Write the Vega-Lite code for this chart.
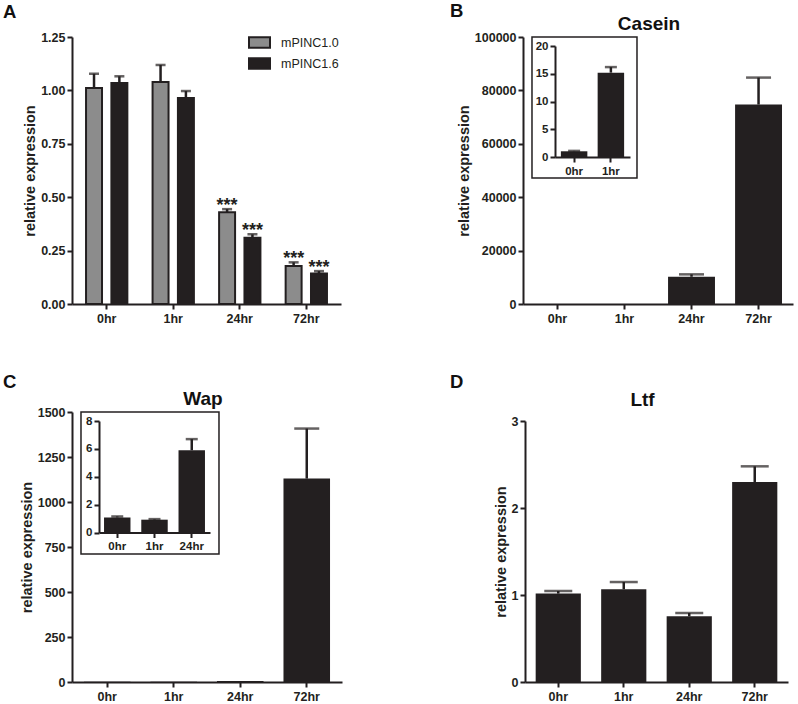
{
  "$schema": "https://vega.github.io/schema/vega-lite/v6.json",
  "width": 798,
  "height": 704,
  "autosize": {"type": "none"},
  "padding": 0,
  "background": "white",
  "config": {
    "view": {"stroke": null},
    "font": "Liberation Sans",
    "axis": {
      "grid": false,
      "domainColor": "#231f20",
      "domainWidth": 2,
      "tickColor": "#231f20",
      "tickWidth": 2,
      "tickSize": 5,
      "labelFont": "Liberation Sans",
      "labelFontWeight": "bold",
      "labelFontSize": 12.5,
      "labelColor": "#231f20",
      "labelPadding": 2,
      "titleFont": "Liberation Sans",
      "titleFontWeight": "bold",
      "titleFontSize": 14.5,
      "titleColor": "#231f20",
      "titlePadding": 3,
      "labelAngle": 0,
      "labelOverlap": false,
      "labelFlush": false
    },
    "axisX": {"labelPadding": 3},
    "text": {"font": "Liberation Sans", "color": "#111111"}
  },
  "datasets": {
    "A": [
      {"t": "0hr", "g": "mPINC1.0", "v": 1.011, "hi": 1.078},
      {"t": "0hr", "g": "mPINC1.6", "v": 1.035, "hi": 1.066},
      {"t": "1hr", "g": "mPINC1.0", "v": 1.039, "hi": 1.119},
      {"t": "1hr", "g": "mPINC1.6", "v": 0.965, "hi": 0.997},
      {"t": "24hr", "g": "mPINC1.0", "v": 0.43, "hi": 0.444, "sig": "***"},
      {"t": "24hr", "g": "mPINC1.6", "v": 0.31, "hi": 0.326, "sig": "***"},
      {"t": "72hr", "g": "mPINC1.0", "v": 0.178, "hi": 0.195, "sig": "***"},
      {"t": "72hr", "g": "mPINC1.6", "v": 0.143, "hi": 0.154, "sig": "***"}
    ],
    "B": [
      {"t": "0hr", "v": 1.03, "hi": 1.1},
      {"t": "1hr", "v": 15.2, "hi": 16.2},
      {"t": "24hr", "v": 10200, "hi": 11100},
      {"t": "72hr", "v": 74700, "hi": 84800}
    ],
    "C": [
      {"t": "0hr", "v": 1.08, "hi": 1.15},
      {"t": "1hr", "v": 0.92, "hi": 0.96},
      {"t": "24hr", "v": 5.9, "hi": 6.7},
      {"t": "72hr", "v": 1130, "hi": 1408}
    ],
    "D": [
      {"t": "0hr", "v": 1.016, "hi": 1.046},
      {"t": "1hr", "v": 1.066, "hi": 1.149},
      {"t": "24hr", "v": 0.755, "hi": 0.793},
      {"t": "72hr", "v": 2.299, "hi": 2.479}
    ],
    "annot": [
      {"panel": "A", "kind": "letter", "label": "A", "x": -0.2565, "y": 1.071},
      {"panel": "B", "kind": "letter", "label": "B", "x": -0.2704, "y": 1.075},
      {"panel": "B", "kind": "title", "label": "Casein", "x": 0.4667, "y": 1.026},
      {"panel": "B", "kind": "frame", "x": 0.0333, "x2": 0.4222, "y": 0.4719, "y2": 1.0},
      {"panel": "C", "kind": "letter", "label": "C", "x": -0.2556, "y": 1.0889},
      {"panel": "C", "kind": "title", "label": "Wap", "x": 0.4852, "y": 1.0259},
      {"panel": "C", "kind": "frame", "x": 0.0333, "x2": 0.5444, "y": 0.4741, "y2": 1.0},
      {"panel": "D", "kind": "letter", "label": "D", "x": -0.2852, "y": 1.1264},
      {"panel": "D", "kind": "title", "label": "Ltf", "x": 0.4468, "y": 1.0586}
    ]
  },
  "layer": [
    {
      "data": {"name": "A"},
      "encoding": {
        "x": {"field": "t", "type": "nominal", "sort": ["0hr", "1hr", "24hr", "72hr"],
          "scale": {"range": [72, 341], "paddingInner": 0.379, "paddingOuter": 0.211},
          "axis": {"orient": "bottom", "offset": -400, "title": null}},
        "xOffset": {"field": "g", "type": "nominal", "sort": ["mPINC1.0", "mPINC1.6"],
          "scale": {"paddingInner": 0.37, "paddingOuter": 0}}
      },
      "layer": [
        {
          "mark": {"type": "bar", "stroke": "#231f20", "strokeWidth": 2},
          "encoding": {
            "y": {"field": "v", "type": "quantitative",
              "scale": {"domain": [0, 1.25], "range": [304, 37], "nice": false},
              "axis": {"orient": "left", "offset": -72, "values": [0, 0.25, 0.5, 0.75, 1, 1.25], "format": ".2f", "title": "relative expression"}},
            "color": {"field": "g", "type": "nominal",
              "scale": {"domain": ["mPINC1.0", "mPINC1.6"], "range": ["#8c8c8c", "#231f20"]},
              "legend": {"orient": "none", "legendX": 248, "legendY": 31, "title": null,
                "symbolType": "M-1,-0.5H1V0.5H-1Z", "symbolSize": 441,
                "symbolStrokeColor": "#231f20", "symbolStrokeWidth": 2,
                "labelFont": "Liberation Sans", "labelFontSize": 12.5, "labelFontWeight": "normal",
                "labelColor": "#231f20", "labelOffset": 10, "rowPadding": 0, "padding": 0}}
          }
        },
        {
          "mark": {"type": "rule", "color": "#231f20", "strokeWidth": 2.5},
          "encoding": {"y": {"field": "v", "type": "quantitative"}, "y2": {"field": "hi"}}
        },
        {
          "mark": {"type": "tick", "orient": "horizontal", "color": "#231f20", "size": 10, "thickness": 2.5},
          "encoding": {"y": {"field": "hi", "type": "quantitative"}}
        },
        {
          "transform": [{"filter": "datum.sig"}],
          "mark": {"type": "text", "fontSize": 18, "fontWeight": "bold", "baseline": "alphabetic", "dy": 1.5, "color": "#231f20"},
          "encoding": {"y": {"field": "hi", "type": "quantitative"}, "text": {"field": "sig"}}
        }
      ]
    },
    {
      "data": {"name": "annot"},
      "transform": [{"filter": "datum.panel === 'A'"}],
      "mark": {"type": "text", "fontSize": 18.5, "fontWeight": "bold", "align": "left", "baseline": "alphabetic"},
      "encoding": {
        "x": {"field": "x", "type": "quantitative", "scale": {"domain": [0, 1], "range": [72, 341], "nice": false, "zero": false}, "axis": null},
        "y": {"field": "y", "type": "quantitative", "scale": {"domain": [0, 1], "range": [304, 37], "nice": false, "zero": false}, "axis": null},
        "text": {"field": "label"}
      }
    },
    {
      "data": {"name": "B"},
      "encoding": {
        "x": {"field": "t", "type": "nominal", "sort": ["0hr", "1hr", "24hr", "72hr"],
          "scale": {"range": [523, 793], "paddingInner": 0.3, "paddingOuter": 0.164},
          "axis": {"orient": "bottom", "offset": -400, "title": null}}
      },
      "layer": [
        {
          "mark": {"type": "bar", "color": "#231f20"},
          "encoding": {
            "y": {"field": "v", "type": "quantitative",
              "scale": {"domain": [0, 100000], "range": [304, 37], "nice": false},
              "axis": {"orient": "left", "offset": -523, "values": [0, 20000, 40000, 60000, 80000, 100000], "format": "d", "title": "relative expression"}}
          }
        },
        {
          "transform": [{"filter": "datum.v > 100"}],
          "mark": {"type": "rule", "color": "#231f20", "strokeWidth": 2.5},
          "encoding": {"y": {"field": "v", "type": "quantitative"}, "y2": {"field": "hi"}}
        },
        {
          "transform": [{"filter": "datum.v > 100"}],
          "mark": {"type": "tick", "orient": "horizontal", "color": "#231f20", "size": 25, "thickness": 2.5},
          "encoding": {"y": {"field": "hi", "type": "quantitative"}}
        }
      ]
    },
    {
      "data": {"name": "annot"},
      "transform": [{"filter": "datum.panel === 'B'"}],
      "encoding": {
        "x": {"field": "x", "type": "quantitative", "scale": {"domain": [0, 1], "range": [523, 793], "nice": false, "zero": false}, "axis": null},
        "y": {"field": "y", "type": "quantitative", "scale": {"domain": [0, 1], "range": [304, 37], "nice": false, "zero": false}, "axis": null}
      },
      "layer": [
        {
          "transform": [{"filter": "datum.kind === 'letter'"}],
          "mark": {"type": "text", "fontSize": 18.5, "fontWeight": "bold", "align": "left", "baseline": "alphabetic"},
          "encoding": {"text": {"field": "label"}}
        },
        {
          "transform": [{"filter": "datum.kind === 'title'"}],
          "mark": {"type": "text", "fontSize": 19, "fontWeight": "bold", "align": "center", "baseline": "alphabetic"},
          "encoding": {"text": {"field": "label"}}
        },
        {
          "transform": [{"filter": "datum.kind === 'frame'"}],
          "mark": {"type": "rect", "filled": false, "color": "#231f20", "strokeWidth": 1.5},
          "encoding": {"x2": {"field": "x2"}, "y2": {"field": "y2"}}
        }
      ]
    },
    {
      "data": {"name": "B"},
      "transform": [{"filter": "datum.v < 100"}],
      "encoding": {
        "x": {"field": "t", "type": "nominal", "sort": ["0hr", "1hr"],
          "scale": {"range": [555, 630], "paddingInner": 0.28, "paddingOuter": 0.16},
          "axis": {"orient": "bottom", "offset": -547, "title": null, "labelFontSize": 11.5}}
      },
      "layer": [
        {
          "mark": {"type": "bar", "color": "#231f20"},
          "encoding": {
            "y": {"field": "v", "type": "quantitative",
              "scale": {"domain": [0, 20], "range": [157, 46], "nice": false},
              "axis": {"orient": "left", "offset": -555, "values": [0, 5, 10, 15, 20], "format": "d", "title": null, "labelFontSize": 11.5}}
          }
        },
        {
          "mark": {"type": "rule", "color": "#231f20", "strokeWidth": 2.5},
          "encoding": {"y": {"field": "v", "type": "quantitative"}, "y2": {"field": "hi"}}
        },
        {
          "mark": {"type": "tick", "orient": "horizontal", "color": "#231f20", "size": 12, "thickness": 2.5},
          "encoding": {"y": {"field": "hi", "type": "quantitative"}}
        }
      ]
    },
    {
      "data": {"name": "C"},
      "encoding": {
        "x": {"field": "t", "type": "nominal", "sort": ["0hr", "1hr", "24hr", "72hr"],
          "scale": {"range": [72, 342], "paddingInner": 0.3, "paddingOuter": 0.18},
          "axis": {"orient": "bottom", "offset": -22, "title": null}}
      },
      "layer": [
        {
          "mark": {"type": "bar", "color": "#231f20"},
          "encoding": {
            "y": {"field": "v", "type": "quantitative",
              "scale": {"domain": [0, 1500], "range": [682, 412], "nice": false},
              "axis": {"orient": "left", "offset": -72, "values": [0, 250, 500, 750, 1000, 1250, 1500], "format": "d", "title": "relative expression"}}
          }
        },
        {
          "transform": [{"filter": "datum.v > 100"}],
          "mark": {"type": "rule", "color": "#231f20", "strokeWidth": 2.5},
          "encoding": {"y": {"field": "v", "type": "quantitative"}, "y2": {"field": "hi"}}
        },
        {
          "transform": [{"filter": "datum.v > 100"}],
          "mark": {"type": "tick", "orient": "horizontal", "color": "#231f20", "size": 25, "thickness": 2.5},
          "encoding": {"y": {"field": "hi", "type": "quantitative"}}
        }
      ]
    },
    {
      "data": {"name": "annot"},
      "transform": [{"filter": "datum.panel === 'C'"}],
      "encoding": {
        "x": {"field": "x", "type": "quantitative", "scale": {"domain": [0, 1], "range": [72, 342], "nice": false, "zero": false}, "axis": null},
        "y": {"field": "y", "type": "quantitative", "scale": {"domain": [0, 1], "range": [682, 412], "nice": false, "zero": false}, "axis": null}
      },
      "layer": [
        {
          "transform": [{"filter": "datum.kind === 'letter'"}],
          "mark": {"type": "text", "fontSize": 18.5, "fontWeight": "bold", "align": "left", "baseline": "alphabetic"},
          "encoding": {"text": {"field": "label"}}
        },
        {
          "transform": [{"filter": "datum.kind === 'title'"}],
          "mark": {"type": "text", "fontSize": 19, "fontWeight": "bold", "align": "center", "baseline": "alphabetic"},
          "encoding": {"text": {"field": "label"}}
        },
        {
          "transform": [{"filter": "datum.kind === 'frame'"}],
          "mark": {"type": "rect", "filled": false, "color": "#231f20", "strokeWidth": 1.5},
          "encoding": {"x2": {"field": "x2"}, "y2": {"field": "y2"}}
        }
      ]
    },
    {
      "data": {"name": "C"},
      "transform": [{"filter": "datum.v < 100"}],
      "encoding": {
        "x": {"field": "t", "type": "nominal", "sort": ["0hr", "1hr", "24hr"],
          "scale": {"range": [99, 210], "paddingInner": 0.29, "paddingOuter": 0.135},
          "axis": {"orient": "bottom", "offset": -171.5, "title": null, "labelFontSize": 11.5}}
      },
      "layer": [
        {
          "mark": {"type": "bar", "color": "#231f20"},
          "encoding": {
            "y": {"field": "v", "type": "quantitative",
              "scale": {"domain": [0, 8], "range": [532.5, 421], "nice": false},
              "axis": {"orient": "left", "offset": -99, "values": [0, 2, 4, 6, 8], "format": "d", "title": null, "labelFontSize": 11.5}}
          }
        },
        {
          "mark": {"type": "rule", "color": "#231f20", "strokeWidth": 2.5},
          "encoding": {"y": {"field": "v", "type": "quantitative"}, "y2": {"field": "hi"}}
        },
        {
          "mark": {"type": "tick", "orient": "horizontal", "color": "#231f20", "size": 12, "thickness": 2.5},
          "encoding": {"y": {"field": "hi", "type": "quantitative"}}
        }
      ]
    },
    {
      "data": {"name": "D"},
      "encoding": {
        "x": {"field": "t", "type": "nominal", "sort": ["0hr", "1hr", "24hr", "72hr"],
          "scale": {"range": [525, 788], "paddingInner": 0.31, "paddingOuter": 0.163},
          "axis": {"orient": "bottom", "offset": -22, "title": null}}
      },
      "layer": [
        {
          "mark": {"type": "bar", "color": "#231f20"},
          "encoding": {
            "y": {"field": "v", "type": "quantitative",
              "scale": {"domain": [0, 3], "range": [682, 421], "nice": false},
              "axis": {"orient": "left", "offset": -525, "values": [0, 1, 2, 3], "format": "d", "title": "relative expression"}}
          }
        },
        {
          "mark": {"type": "rule", "color": "#231f20", "strokeWidth": 2.5},
          "encoding": {"y": {"field": "v", "type": "quantitative"}, "y2": {"field": "hi"}}
        },
        {
          "mark": {"type": "tick", "orient": "horizontal", "color": "#231f20", "size": 28, "thickness": 2.5},
          "encoding": {"y": {"field": "hi", "type": "quantitative"}}
        }
      ]
    },
    {
      "data": {"name": "annot"},
      "transform": [{"filter": "datum.panel === 'D'"}],
      "encoding": {
        "x": {"field": "x", "type": "quantitative", "scale": {"domain": [0, 1], "range": [525, 788], "nice": false, "zero": false}, "axis": null},
        "y": {"field": "y", "type": "quantitative", "scale": {"domain": [0, 1], "range": [682, 421], "nice": false, "zero": false}, "axis": null}
      },
      "layer": [
        {
          "transform": [{"filter": "datum.kind === 'letter'"}],
          "mark": {"type": "text", "fontSize": 18.5, "fontWeight": "bold", "align": "left", "baseline": "alphabetic"},
          "encoding": {"text": {"field": "label"}}
        },
        {
          "transform": [{"filter": "datum.kind === 'title'"}],
          "mark": {"type": "text", "fontSize": 19, "fontWeight": "bold", "align": "center", "baseline": "alphabetic"},
          "encoding": {"text": {"field": "label"}}
        }
      ]
    }
  ],
  "resolve": {
    "scale": {"x": "independent", "y": "independent"},
    "axis": {"x": "independent", "y": "independent"}
  }
}
